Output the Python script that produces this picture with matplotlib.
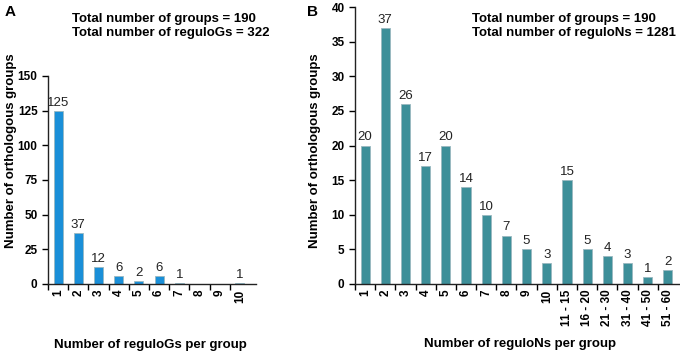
import numpy as np
import matplotlib
matplotlib.use("Agg")
import matplotlib.pyplot as plt

plt.rcParams['font.family'] = ['Liberation Sans', 'DejaVu Sans']

# panel A data
regulogs_cats = ['1', '2', '3', '4', '5', '6', '7', '8', '9', '10']
regulogs_counts = [125, 37, 12, 6, 2, 6, 1, 0, 0, 1]
regulogs_labels = ['125', '37', '12', '6', '2', '6', '1', '', '', '1']

# panel B data
regulons_cats = ['1', '2', '3', '4', '5', '6', '7', '8', '9', '10',
                 '11 - 15', '16 - 20', '21 - 30', '31 - 40', '41 - 50', '51 - 60']
regulons_counts = [20, 37, 26, 17, 20, 14, 10, 7, 5, 3, 15, 5, 4, 3, 1, 2]

color_a = '#1a8fd8'
color_b = '#3d8f99'


def draw_panel(ax, cats, counts, labels, color, ymax, ystep, xmax):
    x = np.arange(len(cats)) + 0.5
    ax.bar(x, counts, width=0.45, color=color, edgecolor='#9ab8c0', linewidth=0.6, zorder=2)
    for xi, c, lab in zip(x, counts, labels):
        if lab:
            ax.annotate(lab, (xi, c), xytext=(0, 1.5), textcoords='offset points',
                        ha='center', va='bottom', fontsize=9.5, color='#222222')
    ax.set_xlim(0, xmax)
    ax.set_ylim(0, ymax)
    ax.set_yticks(np.arange(0, ymax + 1, ystep))
    # boundary ticks (major, unlabeled) and category labels (minor, no tick)
    ax.set_xticks(np.arange(0, len(cats)))
    ax.set_xticklabels([])
    ax.set_xticks(x, minor=True)
    ax.set_xticklabels(cats, minor=True, rotation=90, fontweight='bold', fontsize=8.5)
    ax.tick_params(axis='x', which='minor', length=0, pad=4)
    ax.tick_params(axis='x', which='major', length=4, width=1)
    ax.tick_params(axis='y', length=4, width=1, labelsize=8.5)
    for t in ax.get_yticklabels():
        t.set_fontweight('bold')
    for s in ['top', 'right']:
        ax.spines[s].set_visible(False)
    for s in ['left', 'bottom']:
        ax.spines[s].set_linewidth(1)
        ax.spines[s].set_color('#222222')


fig = plt.figure(figsize=(6.8, 3.53), dpi=100)

ax1 = fig.add_axes([48 / 680, 69 / 353, 208 / 680, 208 / 353])
draw_panel(ax1, regulogs_cats, regulogs_counts, regulogs_labels, color_a, 150, 25, 10.3)
ax1.set_ylabel('Number of orthologous groups', fontweight='bold', fontsize=9.5)
ax1.yaxis.set_label_coords(-0.15, 0.64)
ax1.set_xlabel('Number of reguloGs per group', fontweight='bold', fontsize=9.5)
ax1.xaxis.set_label_coords(0.49, -0.265)

ax2 = fig.add_axes([355 / 680, 69 / 353, 324 / 680, 277 / 353])
draw_panel(ax2, regulons_cats, regulons_counts, [str(v) for v in regulons_counts],
           color_b, 40, 5, 16.05)
ax2.set_ylabel('Number of orthologous groups', fontweight='bold', fontsize=9.5)
ax2.yaxis.set_label_coords(-0.105, 0.48)
ax2.set_xlabel('Number of reguloNs per group', fontweight='bold', fontsize=9.5)
ax2.xaxis.set_label_coords(0.51, -0.195)

fig.text(72 / 680, 1 - 26 / 353, 'Total number of groups = 190\nTotal number of reguloGs = 322',
         ha='left', va='center', fontweight='bold', fontsize=9.5, linespacing=1.15)
fig.text(472 / 680, 1 - 26 / 353, 'Total number of groups = 190\nTotal number of reguloNs = 1281',
         ha='left', va='center', fontweight='bold', fontsize=9.5, linespacing=1.15)

fig.text(10 / 680, 1 - 12 / 353, 'A', ha='center', va='center', fontweight='bold', fontsize=11)
fig.text(313 / 680, 1 - 12 / 353, 'B', ha='center', va='center', fontweight='bold', fontsize=11)

fig.savefig('out.png', dpi=100)
